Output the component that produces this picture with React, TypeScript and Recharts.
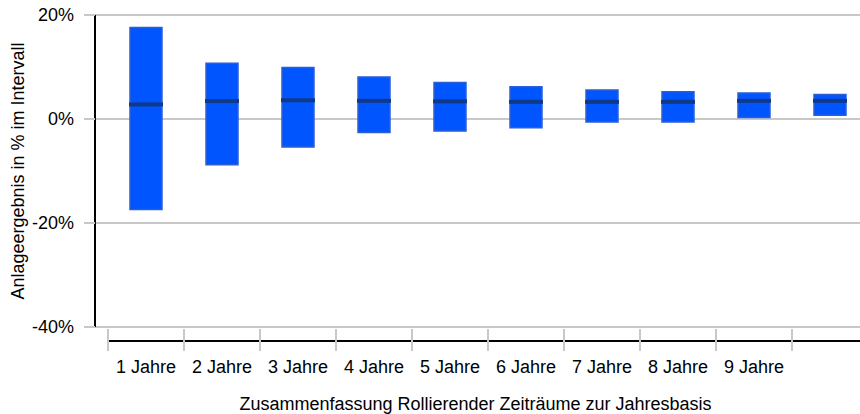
import React from 'react';
import {
  ComposedChart,
  Bar,
  Scatter,
  XAxis,
  YAxis,
  CartesianGrid
} from 'recharts';

const categories = ['1 Jahre', '2 Jahre', '3 Jahre', '4 Jahre', '5 Jahre', '6 Jahre', '7 Jahre', '8 Jahre', '9 Jahre', ''];
const highs = [17.6, 10.7, 9.9, 8.1, 7.0, 6.2, 5.6, 5.25, 5.0, 4.7];
const lows = [-17.4, -8.8, -5.4, -2.6, -2.3, -1.7, -0.6, -0.6, 0.3, 0.7];
const medians = [2.8, 3.45, 3.6, 3.5, 3.4, 3.3, 3.3, 3.3, 3.5, 3.5];
const yTicks = [-40, -20, 0, 20];

const data = categories.map((name, i) => ({
  name,
  range: [lows[i], highs[i]],
  median: medians[i]
}));

const WIDTH = 868;
const HEIGHT = 414;
const Y_AXIS_WIDTH = 95;
const PAD_LEFT = 13;
const BAND = (WIDTH - Y_AXIS_WIDTH - PAD_LEFT) / categories.length;
const FONT = '"Liberation Sans", Arial, sans-serif';
const FS = 18;

// x axis drawn per category: axis segment, boundary tick, label
const XTick = (props: any) => {
  const { x, y, payload } = props;
  const left = x - BAND / 2;
  return (
    <g>
      <line x1={left} x2={left + BAND} y1={y + 14} y2={y + 14} stroke="#000" strokeWidth={2} />
      <line x1={left} x2={left} y1={y + 2} y2={y + 24} stroke="#c8c8c8" strokeWidth={2} />
      <text x={x} y={y + 46} textAnchor="middle" fontSize={FS} fill="#000" fontFamily={FONT}>
        {payload.value}
      </text>
    </g>
  );
};

const MedianMark = (props: any) => {
  const { cx, cy } = props;
  return <rect x={cx - 17} y={cy - 2} width={34} height={4} fill="#103a88" />;
};

export default function App() {
  return (
    <div style={{ position: 'fixed', left: 0, top: 0, width: 860, height: 414, overflow: 'hidden', background: '#fff' }}>
      <ComposedChart
        width={WIDTH}
        height={HEIGHT}
        data={data}
        margin={{ top: 15, right: 0, bottom: 0, left: 0 }}
      >
        <CartesianGrid vertical={false} stroke="#c8c8c8" strokeWidth={2} />
        <XAxis
          dataKey="name"
          interval={0}
          height={87}
          padding={{ left: PAD_LEFT, right: 0 }}
          axisLine={false}
          tickLine={false}
          tickSize={0}
          tickMargin={0}
          tick={<XTick />}
          label={{
            value: 'Zusammenfassung Rollierender Zeiträume zur Jahresbasis',
            position: 'insideBottom',
            offset: 4,
            dx: -6,
            style: { fontSize: FS, fill: '#000', fontFamily: FONT }
          }}
        />
        <YAxis
          width={Y_AXIS_WIDTH}
          domain={[-40, 20]}
          ticks={yTicks}
          allowDataOverflow
          tickFormatter={(v) => `${v}%`}
          axisLine={{ stroke: '#000', strokeWidth: 2 }}
          tickLine={{ stroke: '#c8c8c8', strokeWidth: 2 }}
          tickSize={11}
          tickMargin={10}
          tick={{ fontSize: FS, fill: '#000', fontFamily: FONT }}
          label={{
            value: 'Anlageergebnis in % im Intervall',
            angle: -90,
            position: 'insideLeft',
            offset: 18,
            style: { fontSize: FS, fill: '#000', fontFamily: FONT, textAnchor: 'middle' }
          }}
        />
        <Bar
          dataKey="range"
          barSize={32}
          fill="#0055ff"
          stroke="#2a5fd6"
          strokeWidth={1.5}
          isAnimationActive={false}
        />
        <Scatter dataKey="median" shape={<MedianMark />} isAnimationActive={false} />
      </ComposedChart>
    </div>
  );
}
